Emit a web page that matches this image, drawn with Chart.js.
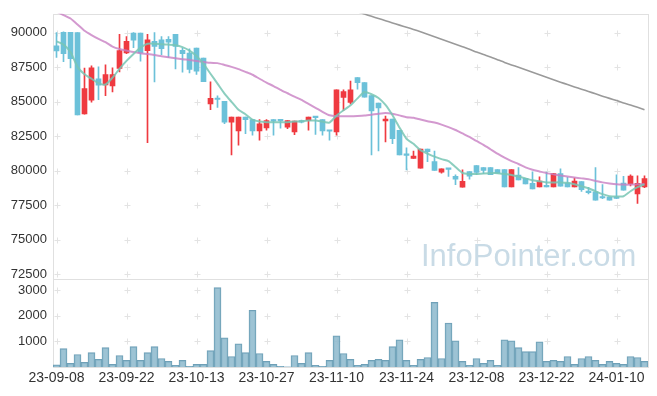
<!DOCTYPE html>
<html>
<head>
<meta charset="utf-8">
<script src="https://cdn.jsdelivr.net/npm/chart.js@4.4.1/dist/chart.umd.min.js"></script>
<style>
body { margin: 0; background: #fff; }
</style>
</head>
<body>
<canvas id="myChart" width="657" height="396"></canvas>
<script>
var dates = ['23-09-08','23-09-11','23-09-12','23-09-13','23-09-14','23-09-15','23-09-18','23-09-19','23-09-20','23-09-21',
    '23-09-22','23-09-25','23-09-26','23-09-27','23-10-04','23-10-05','23-10-06','23-10-10','23-10-11','23-10-12',
    '23-10-13','23-10-16','23-10-17','23-10-18','23-10-19','23-10-20','23-10-23','23-10-24','23-10-25','23-10-26',
    '23-10-27','23-10-30','23-10-31','23-11-01','23-11-02','23-11-03','23-11-06','23-11-07','23-11-08','23-11-09',
    '23-11-10','23-11-13','23-11-14','23-11-15','23-11-16','23-11-17','23-11-20','23-11-21','23-11-22','23-11-23',
    '23-11-24','23-11-27','23-11-28','23-11-29','23-11-30','23-12-01','23-12-04','23-12-05','23-12-06','23-12-07',
    '23-12-08','23-12-11','23-12-12','23-12-13','23-12-14','23-12-15','23-12-18','23-12-19','23-12-20','23-12-21',
    '23-12-22','23-12-26','23-12-27','23-12-28','24-01-02','24-01-03','24-01-04','24-01-05','24-01-08','24-01-09',
    '24-01-10','24-01-11','24-01-12','24-01-15','24-01-16'];

var open = [89040,90020,90020,90000,84110,85110,86660,86210,86140,87400,
    88520,89970,89970,88690,89360,89470,89520,89880,88710,88520,
    88880,88160,84830,85240,85020,83520,82880,83880,83710,82880,
    83110,83710,83660,83160,82810,83640,83640,83900,83710,82900,
    82810,85310,84950,86740,86380,85450,84900,83610,83740,82930,
    81210,80900,80190,81570,80660,79900,80140,79590,78810,79950,
    80380,80240,80240,80090,80090,78830,79690,79450,79090,78830,
    78950,78830,79790,79110,78830,79210,78520,78470,78070,78090,
    78050,79110,79040,78330,78830];
var high = [90000,90050,90020,90000,87430,87600,87520,87660,87450,89880,
    89710,90000,89970,89880,90000,89710,89710,89880,88880,88830,
    88880,88160,86430,85430,85020,83880,83880,83880,83710,83710,
    83710,83710,83710,83640,83590,83660,83880,83900,83710,82900,
    85860,85860,86500,86740,86380,85450,84900,83950,83740,82930,
    81660,81430,81570,81570,81430,80140,80140,79710,80070,79950,
    80380,80240,80240,80090,80090,80090,80240,79450,79930,79570,
    79900,79810,80140,79520,79470,79210,78800,80240,79000,78090,
    79710,79590,79710,79640,79640];
var low = [88210,87900,87450,84050,84100,84970,85140,85430,85710,87160,
    88470,88900,87930,82040,86430,88400,88210,87380,87140,87090,
    86970,86450,84430,84590,83400,81140,81860,82690,82570,82210,
    82930,82570,83090,83040,82610,83470,82930,82640,82570,82210,
    82570,84360,84830,85900,85330,81140,81430,82090,81970,81140,
    80070,80900,80190,80660,80020,79830,79590,79000,78810,79400,
    79710,79810,79710,79830,78830,78830,79330,79040,78690,78830,
    78830,78830,78880,78830,78830,78500,78330,77880,77990,77880,
    77980,78590,78900,77640,78780];
var close = [88680,88470,88110,84050,85950,87450,86200,86970,86970,88690,
    89360,89450,88520,89470,89000,88830,89310,89000,88470,87330,
    87210,86450,85240,85160,83520,83880,83880,83690,82880,83400,
    83640,83590,83610,83640,83590,83520,83880,83850,82880,82860,
    85860,85740,85860,86380,85330,84330,84540,83740,82330,81140,
    81110,81070,81570,81380,80020,80140,80100,79400,79240,79610,
    79880,80020,79710,79830,78830,80090,79330,79040,78690,79260,
    78830,79790,78880,78830,79260,78640,78420,77880,78030,77880,
    78000,78590,79610,79090,79430];

var ma5 = [89360,89130,88590,87520,86990,86660,86340,86240,86740,87380,
    87950,88450,88910,89190,89200,89160,89130,89090,88950,88700,
    88310,87740,87020,86310,85590,84990,84410,84090,83700,83560,
    83520,83520,83520,83520,83560,83590,83630,83640,83560,83490,
    83990,84380,84740,85240,85700,85540,85270,84770,84020,83130,
    82310,81950,81490,81240,81020,80840,80700,80270,79840,79770,
    79770,79810,79830,79830,79770,79700,79590,79450,79310,79240,
    79160,79160,79160,79130,79020,78880,78740,78520,78310,78160,
    78130,78160,78520,78810,79020];
var ma20 = [91520,91270,91020,90590,90130,89820,89540,89310,88990,88810,
    88700,88590,88510,88450,88380,88290,88210,88140,88070,88020,
    87950,87880,87810,87790,87660,87520,87360,87160,86950,86660,
    86380,86130,85860,85610,85360,85130,84840,84560,84270,84020,
    83950,83950,83950,83970,84000,84060,84130,84180,84130,84010,
    83880,83840,83710,83590,83490,83340,83160,82950,82700,82450,
    82160,81880,81560,81240,80950,80700,80490,80250,80070,79950,
    79830,79740,79660,79590,79520,79450,79380,79270,79160,79080,
    79020,79000,79000,79020,79040];
// long average: above the top of the chart before the 43rd day
var ma60 = Array(42).fill(null).concat([
    91660,91510,91340,91180,91020,90860,90700,90540,90390,90230,
    90060,89880,89700,89520,89340,89160,88970,88790,88590,88410,
    88240,88040,87840,87660,87490,87310,87130,86950,86770,86590,
    86410,86240,86070,85900,85740,85570,85400,85240,85080,84910,
    84760,84590,84410]);

var volume = [80,718,141,487,180,564,295,756,103,449,
    256,795,256,564,795,333,218,64,256,26,
    103,103,641,3103,1141,410,910,564,2218,526,
    218,103,26,10,449,141,564,64,26,256,
    1218,526,295,64,103,256,295,256,795,1064,
    256,64,295,372,2526,333,1718,1026,218,64,
    333,141,256,64,1064,1026,756,603,603,987,
    218,256,218,410,103,333,410,256,103,218,
    141,103,410,372,218];

var priceTicks = [72500, 75000, 77500, 80000, 82500, 85000, 87500, 90000];
var volTicks = [1000, 2000, 3000];

var candleColor = close.map(function (c, i) { return c >= open[i] ? '#ef3a40' : '#6cc1d9'; });

var gridMarks = {
    id: 'gridMarks',
    beforeDatasetsDraw: function (chart) {
        var ctx = chart.ctx, a = chart.chartArea;
        var x = chart.scales.x, y = chart.scales.y, vol = chart.scales.vol;
        ctx.save();
        ctx.font = '31px "Liberation Sans", Arial, sans-serif';
        ctx.fillStyle = '#c9dbe6';
        ctx.textBaseline = 'alphabetic';
        ctx.fillText('InfoPointer.com', a.right - 227, y.bottom - 12.5);

        ctx.strokeStyle = '#e3e3e3';
        ctx.lineWidth = 1;
        ctx.beginPath();
        var rows = priceTicks.map(function (v) { return y.getPixelForValue(v); })
            .concat(volTicks.map(function (v) { return vol.getPixelForValue(v); }));
        for (var i = 0; i < dates.length; i += 10) {
            var px = Math.round(x.getPixelForValue(i)) + 0.5;
            rows.forEach(function (py) {
                py = Math.round(py) + 0.5;
                ctx.moveTo(px - 3, py); ctx.lineTo(px + 3, py);
                ctx.moveTo(px, py - 3); ctx.lineTo(px, py + 3);
            });
        }
        ctx.stroke();

        ctx.strokeStyle = '#e0e0e0';
        ctx.strokeRect(Math.round(a.left) + 0.5, Math.round(a.top) + 0.5,
            Math.round(a.right - a.left), Math.round(a.bottom - a.top));
        ctx.beginPath();
        ctx.moveTo(a.left, Math.round(y.bottom) + 0.5);
        ctx.lineTo(a.right, Math.round(y.bottom) + 0.5);
        ctx.stroke();
        ctx.restore();
    }
};

Chart.defaults.font.family = '"Liberation Sans", Arial, sans-serif';
Chart.defaults.color = '#333';

var ctx = document.getElementById('myChart').getContext('2d');
var myChart = new Chart(ctx, {
    type: 'bar',
    data: {
        labels: dates,
        datasets: [
            {
                type: 'line',
                label: 'MA5',
                data: ma5,
                yAxisID: 'y',
                borderColor: 'rgba(120,198,180,0.85)',
                borderWidth: 2,
                pointRadius: 0,
                tension: 0.2,
                order: 0
            },
            {
                type: 'line',
                label: 'MA20',
                data: ma20,
                yAxisID: 'y',
                borderColor: 'rgba(200,128,195,0.8)',
                borderWidth: 2,
                pointRadius: 0,
                tension: 0.2,
                order: 0
            },
            {
                type: 'line',
                label: 'MA60',
                data: ma60,
                yAxisID: 'y',
                borderColor: '#9a9a9a',
                borderWidth: 1.6,
                pointRadius: 0,
                tension: 0.2,
                order: 0
            },
            {
                label: 'wick',
                data: dates.map(function (d, i) { return [low[i], high[i]]; }),
                yAxisID: 'y',
                backgroundColor: candleColor,
                barThickness: 1,
                grouped: false,
                order: 2
            },
            {
                label: 'body',
                data: dates.map(function (d, i) { return [open[i], close[i]]; }),
                yAxisID: 'y',
                backgroundColor: candleColor,
                barThickness: 5,
                minBarLength: 1.5,
                grouped: false,
                order: 1
            },
            {
                label: 'volume',
                data: volume,
                yAxisID: 'vol',
                backgroundColor: 'rgba(140,184,204,0.85)',
                borderColor: 'rgba(95,150,175,0.9)',
                borderWidth: 1,
                barPercentage: 1,
                categoryPercentage: 1,
                grouped: false,
                order: 1
            }
        ]
    },
    options: {
        responsive: false,
        animation: false,
        layout: { padding: { top: 10, right: 9, left: 0, bottom: 0 } },
        plugins: {
            legend: { display: false },
            tooltip: { enabled: false }
        },
        scales: {
            x: {
                grid: { display: false, drawTicks: false },
                border: { display: false },
                ticks: {
                    autoSkip: false,
                    maxRotation: 0,
                    padding: 3,
                    font: { size: 14 },
                    callback: function (v, i) { return i % 10 === 0 ? dates[i] : ''; }
                },
                afterFit: function (s) { s.height = 29; }
            },
            vol: {
                position: 'left',
                stack: 'pv',
                stackWeight: 1,
                min: 0,
                max: 3450,
                grid: { display: false, drawTicks: false },
                border: { display: false },
                afterBuildTicks: function (s) { s.ticks = volTicks.map(function (v) { return { value: v }; }); },
                ticks: { padding: 6, font: { size: 13 }, callback: function (v) { return String(v); } },
                afterFit: function (s) { s.width = 53; }
            },
            y: {
                position: 'left',
                stack: 'pv',
                stackWeight: 3,
                min: 72190,
                max: 91360,
                grid: { display: false, drawTicks: false },
                border: { display: false },
                afterBuildTicks: function (s) { s.ticks = priceTicks.map(function (v) { return { value: v }; }); },
                ticks: { padding: 6, font: { size: 13 }, callback: function (v) { return String(v); } },
                afterFit: function (s) { s.width = 53; }
            }
        }
    },
    plugins: [gridMarks]
});
</script>
</body>
</html>
